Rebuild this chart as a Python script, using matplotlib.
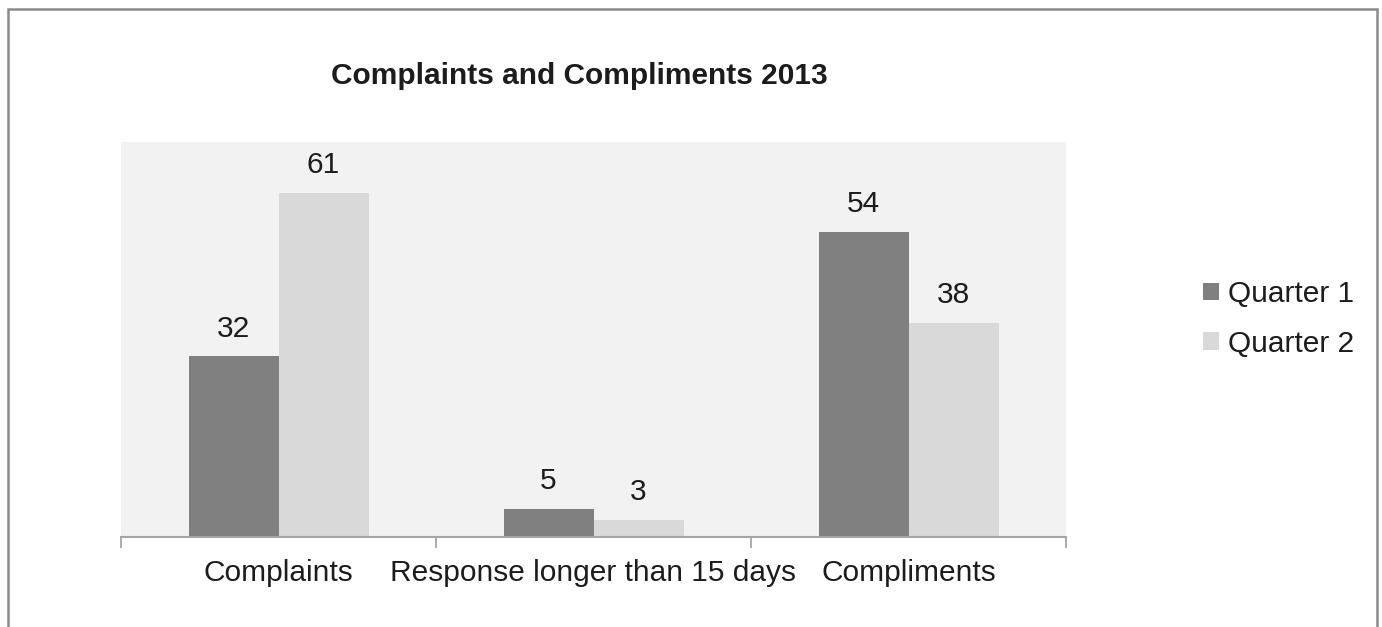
import matplotlib
matplotlib.use("Agg")
import matplotlib.pyplot as plt
from matplotlib.patches import Rectangle
import numpy as np

plt.rcParams['font.family'] = ['Liberation Sans', 'DejaVu Sans']

categories = ["Complaints", "Response longer than 15 days", "Compliments"]
series_names = ["Quarter 1", "Quarter 2"]
quarter1 = [32, 5, 54]
quarter2 = [61, 3, 38]
title = "Complaints and Compliments 2013"

colors = ["#808080", "#d9d9d9"]
text_color = "#1c1c1c"
axis_color = "#a6a6a6"
fs = 21.5

W, H = 1382, 627
fig = plt.figure(figsize=(W / 100, H / 100), dpi=100)
fig.patch.set_facecolor("white")

# outer chart frame (bottom edge runs past the canvas)
fig.patches.append(Rectangle((8 / W, -0.05), (1377 - 8) / W, 1.05 - 9 / H,
                             transform=fig.transFigure, fill=False,
                             edgecolor="#8a8a8a", linewidth=1.8, clip_on=False))

left, right, top, bottom = 121, 1066, 142, 537
ax = fig.add_axes([left / W, 1 - bottom / H, (right - left) / W, (bottom - top) / H])
ax.set_facecolor("#f2f2f2")

x = np.arange(len(categories))
bw = 90 / 315
b1 = ax.bar(x - bw / 2, quarter1, width=bw, color=colors[0], label=series_names[0], zorder=2)
b2 = ax.bar(x + bw / 2, quarter2, width=bw, color=colors[1], label=series_names[1], zorder=2)

for bars, vals in ((b1, quarter1), (b2, quarter2)):
    for rect, v in zip(bars, vals):
        ax.annotate(str(v), (rect.get_x() + rect.get_width() / 2, v),
                    xytext=(0, 10), textcoords="offset points",
                    ha="center", va="bottom", fontsize=fs, color=text_color)

ax.set_xlim(-0.5, len(categories) - 0.5)
ax.set_ylim(0, 70)

for s in ("top", "right", "left"):
    ax.spines[s].set_visible(False)
ax.spines["bottom"].set_color(axis_color)
ax.spines["bottom"].set_linewidth(1.5)
ax.set_yticks([])

ax.set_xticks(np.arange(len(categories) + 1) - 0.5)
ax.set_xticklabels([])
ax.tick_params(axis="x", which="major", length=8, width=1.3, color=axis_color, direction="out")
ax.set_xticks(x, minor=True)
ax.set_xticklabels(categories, minor=True, fontsize=fs, color=text_color)
ax.tick_params(axis="x", which="minor", length=0, pad=16)

fig.text(579.5 / W, 1 - 76 / H, title, ha="center", va="center",
         fontsize=fs, fontweight="bold", color=text_color)

leg = ax.legend(handles=[b1, b2], labels=series_names, loc="center left",
                bbox_to_anchor=(1203 / W, 1 - 319 / H), bbox_transform=fig.transFigure,
                frameon=False, fontsize=fs, handlelength=0.52, handleheight=0.52,
                handletextpad=0.32, labelspacing=0.72, borderpad=0, borderaxespad=0)
for t in leg.get_texts():
    t.set_color(text_color)

fig.savefig("out.png", dpi=100)
